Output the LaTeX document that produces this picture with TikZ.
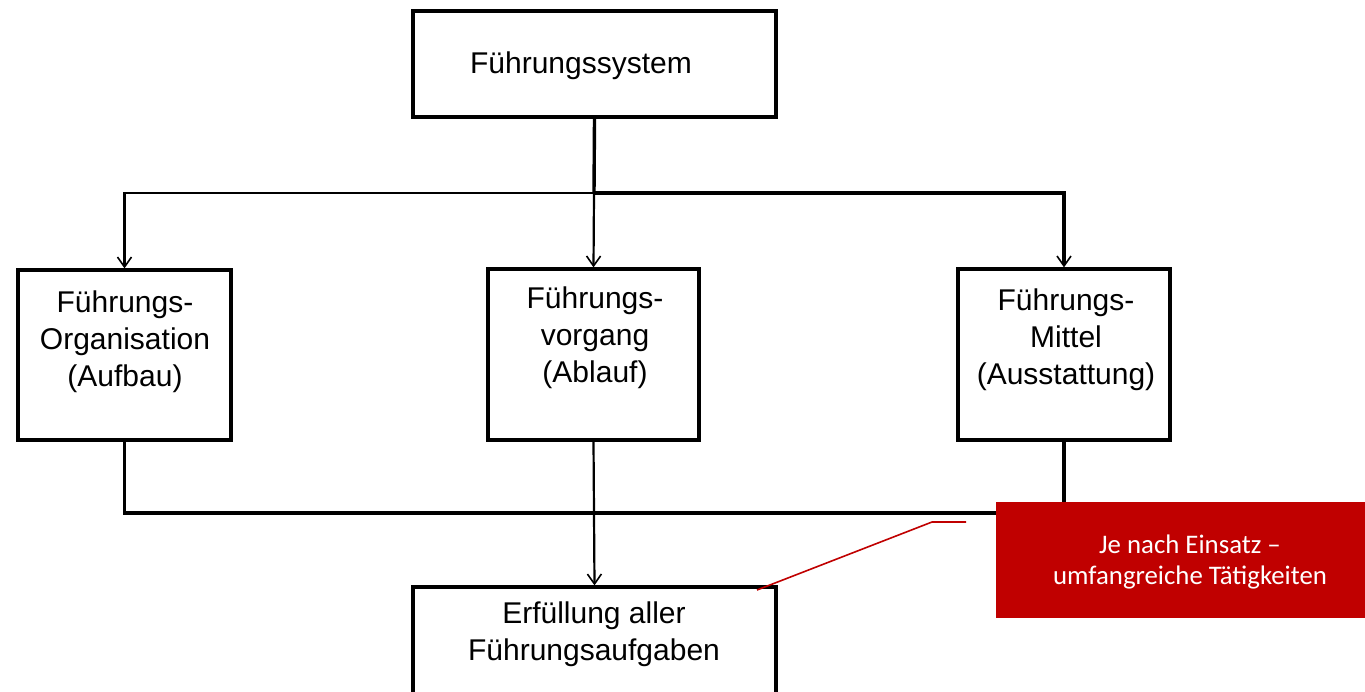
\documentclass[tikz,border=0pt]{standalone}
\usepackage{fontspec}
\setmainfont{Liberation Sans}
\newfontfamily\calib{Carlito}
\usetikzlibrary{arrows.meta}
\definecolor{boxred}{HTML}{C00000}
\begin{document}
\begin{tikzpicture}[x=0.5pt,y=-0.5pt,
  box/.style={draw=black,line width=1.6pt,fill=white,inner sep=0pt},
  txt/.style={align=center,font=\fontsize{15}{18.6}\selectfont,inner sep=0pt},
  conn/.style={draw=black,line width=1.1pt},
  thick conn/.style={draw=black,line width=1.7pt},
  arr/.style={-{Straight Barb[length=5pt,width=7pt,line width=0.8pt]}},
  redbox/.style={fill=boxred,draw=none,inner sep=0pt},
  redtxt/.style={align=center,text=white,font=\calib\fontsize{13.4}{15.5}\selectfont,inner sep=0pt},
  redline/.style={draw=boxred,line width=0.8pt}]
\clip (0,0) rectangle (1365,691);
\fill[white] (0,0) rectangle (1365,691);

% boxes
\node[box,minimum width=181.5pt,minimum height=53pt] (top) at (594.5,64) {};
\node[txt] (toptxt) at (581,66) {Führungssystem};

\node[box,minimum width=106.5pt,minimum height=85pt] (org) at (124.5,355) {};
\node[txt] (orgtxt) at (125,342) {Führungs-\\Organisation\\(Aufbau)};

\node[box,minimum width=105.5pt,minimum height=85.5pt] (vor) at (593.5,354.5) {};
\node[txt] (vortxt) at (595,338) {Führungs-\\vorgang\\(Ablauf)};

\node[box,minimum width=106pt,minimum height=85.5pt] (mit) at (1064,354.5) {};
\node[txt] (mittxt) at (1066,340) {Führungs-\\Mittel\\(Ausstattung)};

\node[box,minimum width=181.5pt,minimum height=60pt] (erf) at (594.5,647) {};
\node[txt] (erftxt) at (594,634) {Erfüllung aller\\Führungsaufgaben};

% connectors top
\coordinate (j1) at (594,193);
\draw[thick conn] (top.south) -- (j1);
\draw[conn,arr] (j1) -| (org.north);
\draw[conn,arr] (j1) -- (vor.north);
\draw[thick conn,arr] (j1) -| (mit.north);

% connectors bottom
\coordinate (j2) at (594,513);
\draw[thick conn] (org.south) |- (j2);
\draw[thick conn] (mit.south) |- (j2);
\draw[conn,arr] (vor.south) -- (erf.north);

% red callout
\node[redbox,minimum width=184.5pt,minimum height=58pt] (rb) at (1180.5,560) {};
\node[redtxt] (rbtxt) at (1190,562) {Je nach Einsatz –\\umfangreiche Tätigkeiten};
\coordinate (c0) at (757,590);
\coordinate (c1) at (932,522);
\coordinate (c2) at (966,522);
\draw[redline] (c0) -- (c1) -- (c2);
\end{tikzpicture}
\end{document}
